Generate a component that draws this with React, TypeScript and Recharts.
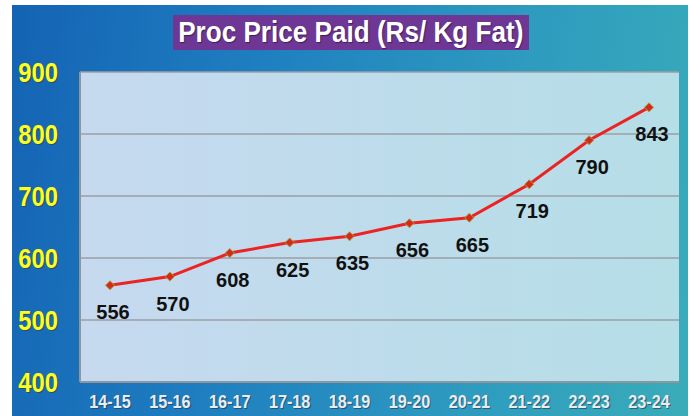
import React from 'react';
import { CartesianGrid, LabelList, Line, LineChart, XAxis, YAxis } from 'recharts';

// Procurement price paid per kg fat, by financial year.
const years = ['14-15', '15-16', '16-17', '17-18', '18-19', '19-20', '20-21', '21-22', '22-23', '23-24'];
const price = [556, 570, 608, 625, 635, 656, 665, 719, 790, 843];
const yTicks = [400, 500, 600, 700, 800, 900];

const data = years.map((year, i) => ({ year, price: price[i] }));

const SANS = '"Liberation Sans", Arial, sans-serif';

// no narrow face installed, so squeeze the regular one horizontally
function YTick({ x, y, payload }: any) {
  const common = { x: 0, y: 0, textAnchor: 'end' as const, dominantBaseline: 'central' as const, fontFamily: SANS, fontWeight: 700, fontSize: 28 };
  return (
    <g transform={`translate(${x - 14},${y}) scale(0.85,1)`}>
      <text {...common} dx={1.5} dy={1.5} fill="#3a3a1a" opacity={0.55}>{payload.value}</text>
      <text {...common} fill="#ffff1e">{payload.value}</text>
    </g>
  );
}

function XTick({ x, y, payload }: any) {
  const common = { x: 0, y: 0, textAnchor: 'middle' as const, dominantBaseline: 'central' as const, fontFamily: SANS, fontWeight: 700, fontSize: 18 };
  return (
    <g transform={`translate(${x},${y + 12}) scale(0.9,1)`}>
      <text {...common} dx={1.2} dy={1.2} fill="#1b3a55" opacity={0.6}>{payload.value}</text>
      <text {...common} fill="#ececec">{payload.value}</text>
    </g>
  );
}

function Diamond({ cx, cy }: any) {
  if (cx == null || cy == null) return null;
  const r = 4.5;
  return (
    <path
      d={`M${cx},${cy - r} L${cx + r},${cy} L${cx},${cy + r} L${cx - r},${cy} Z`}
      fill="#d42a1c"
      stroke="#a89a3a"
      strokeWidth={1}
    />
  );
}

function ValueLabel({ x, y, value }: any) {
  return (
    <text
      x={x + 3}
      y={y + 27}
      textAnchor="middle"
      dominantBaseline="central"
      fontFamily={SANS}
      fontWeight={700}
      fontSize={20}
      fill="#111"
    >
      {value}
    </text>
  );
}

export default function App() {
  return (
    <div style={{ position: 'absolute', left: 0, top: 0, width: 700, height: 416, background: '#fff', overflow: 'hidden' }}>
      <div
        style={{
          position: 'absolute',
          left: 12,
          top: 5,
          width: 676,
          height: 411,
          background: 'linear-gradient(100deg, #1463b4 0%, #1f7fc0 35%, #2e9bbf 70%, #3aacb9 100%)',
        }}
      />
      <div
        style={{
          position: 'absolute',
          left: 173,
          top: 15,
          width: 356,
          height: 35,
          background: '#6e3796',
          color: '#fff',
          fontFamily: SANS,
          fontWeight: 700,
          fontSize: 29,
          lineHeight: '35px',
          textAlign: 'center',
          whiteSpace: 'nowrap',
          overflow: 'visible',
          textShadow: '1px 1px 1px rgba(40,20,60,0.7)',
        }}
      >
        <span style={{ display: 'inline-block', transform: 'scaleX(0.9)', transformOrigin: 'center', margin: '0 -40px' }}>
          Proc Price Paid (Rs/ Kg Fat)
        </span>
      </div>
      <div style={{ position: 'absolute', left: 0, top: 0 }}>
        <LineChart width={700} height={416} data={data} margin={{ top: 72, right: 21, left: 10, bottom: 4 }}>
          <defs>
            <linearGradient id="plotBg" x1="0" y1="0" x2="1" y2="0">
              <stop offset="0%" stopColor="#c6d9ef" />
              <stop offset="100%" stopColor="#b5dee7" />
            </linearGradient>
          </defs>
          <CartesianGrid vertical={false} stroke="#9a9fa6" strokeWidth={1.5} fill="url(#plotBg)" fillOpacity={1} />
          <XAxis
            dataKey="year"
            height={30}
            padding={{ left: 30, right: 30 }}
            tickLine={false}
            axisLine={{ stroke: '#8f969e', strokeWidth: 2 }}
            tick={<XTick />}
            interval={0}
          />
          <YAxis
            width={70}
            domain={[400, 900]}
            ticks={yTicks}
            tickLine={false}
            axisLine={{ stroke: '#8f969e', strokeWidth: 2 }}
            tick={<YTick />}
          />
          <Line
            type="linear"
            dataKey="price"
            stroke="#ec2323"
            strokeWidth={3}
            dot={<Diamond />}
            activeDot={false}
            isAnimationActive={false}
          >
            <LabelList dataKey="price" content={<ValueLabel />} />
          </Line>
        </LineChart>
      </div>
    </div>
  );
}
